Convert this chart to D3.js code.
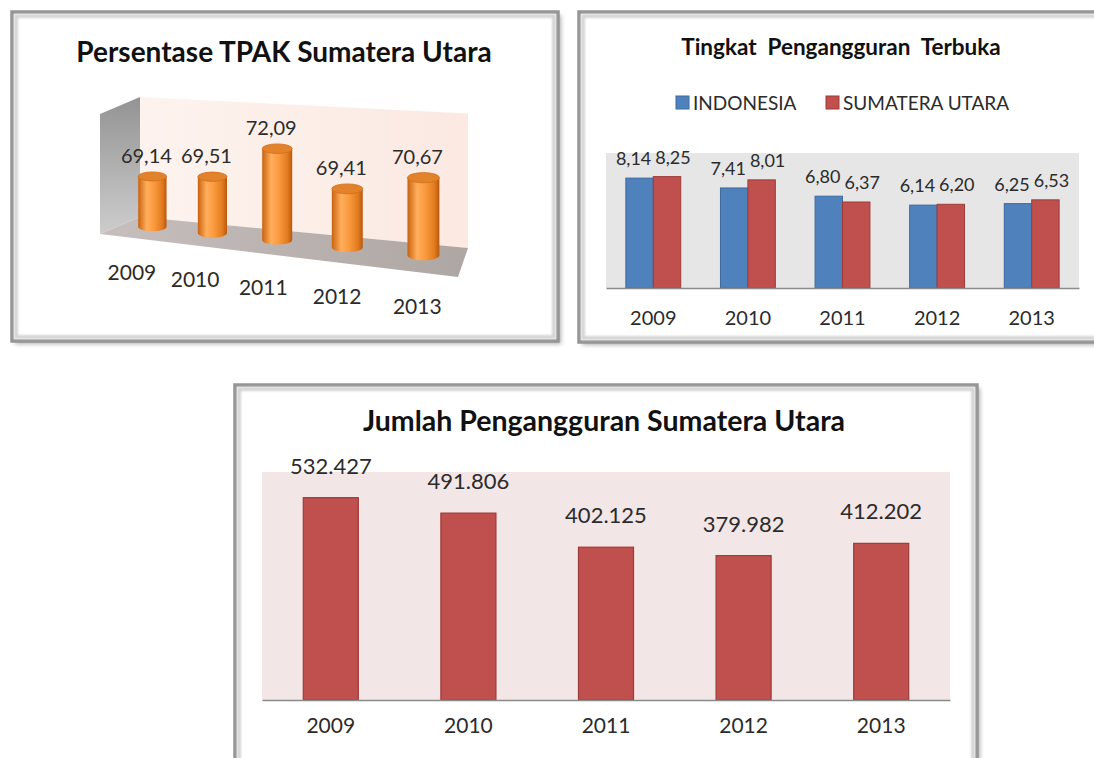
<!DOCTYPE html>
<html lang="id">
<head>
<meta charset="utf-8">
<title>Ketenagakerjaan Sumatera Utara</title>
<script src="https://d3js.org/d3.v7.min.js"></script>
<style>
  body { margin: 0; background: #ffffff; }
  svg { display: block; font-family: "Lato", "Open Sans", sans-serif; }
  .title { font-weight: 700; fill: #111; }
  .val { fill: #2b2b2b; }
  .axis text { fill: #2b2b2b; font-family: "Lato", sans-serif; }
  .axis path { stroke: #8a8a8a; stroke-width: 1.5; }
</style>
</head>
<body>
<div id="chart"></div>
<script>
// ---- data ----
const years = ["2009", "2010", "2011", "2012", "2013"];
const tpakValues = [69.14, 69.51, 72.09, 69.41, 70.67];
const seriesNames = ["INDONESIA", "SUMATERA UTARA"];
const tptIndonesia = [8.14, 7.41, 6.80, 6.14, 6.25];
const tptSumut = [8.25, 8.01, 6.37, 6.20, 6.53];
const jumlahValues = [532427, 491806, 402125, 379982, 412202];

const titleTpak = "Persentase TPAK Sumatera Utara";
const titleTpt = "Tingkat  Pengangguran  Terbuka";
const titleJumlah = "Jumlah Pengangguran Sumatera Utara";

const width = 1094, height = 758;
const idLocale = d3.formatLocale({decimal: ",", thousands: ".", grouping: [3], currency: ["Rp", ""]});
const fmtPct = idLocale.format(".2f");
const fmtJml = idLocale.format(",d");

const svg = d3.select("#chart").append("svg")
  .attr("width", width).attr("height", height);

const defs = svg.append("defs");
defs.append("filter").attr("id", "blur2").attr("x", "-5%").attr("y", "-5%").attr("width", "110%").attr("height", "110%")
  .append("feGaussianBlur").attr("stdDeviation", 2);
defs.append("filter").attr("id", "blur1").attr("x", "-5%").attr("y", "-5%").attr("width", "110%").attr("height", "110%")
  .append("feGaussianBlur").attr("stdDeviation", 1.3);

const cylGrad = defs.append("linearGradient").attr("id", "cyl").attr("x1", 0).attr("x2", 1).attr("y1", 0).attr("y2", 0);
[[0, "#c9620f"], [0.3, "#ffae5c"], [0.55, "#fb9a3e"], [0.85, "#e07a1f"], [1, "#b9580c"]]
  .forEach(s => cylGrad.append("stop").attr("offset", s[0]).attr("stop-color", s[1]));
const sideGrad = defs.append("linearGradient").attr("id", "side").attr("x1", 0).attr("x2", 0).attr("y1", 0).attr("y2", 1);
[[0, "#939393"], [1, "#cdcdcd"]].forEach(s => sideGrad.append("stop").attr("offset", s[0]).attr("stop-color", s[1]));
const backGrad = defs.append("linearGradient").attr("id", "back").attr("x1", 0).attr("x2", 1).attr("y1", 0).attr("y2", 0);
[[0, "#fdf3ee"], [1, "#fbe9e2"]].forEach(s => backGrad.append("stop").attr("offset", s[0]).attr("stop-color", s[1]));
const floorGrad = defs.append("linearGradient").attr("id", "floor").attr("x1", 0).attr("x2", 1).attr("y1", 0).attr("y2", 0);
[[0, "#c6bfbd"], [1, "#aea6a3"]].forEach(s => floorGrad.append("stop").attr("offset", s[0]).attr("stop-color", s[1]));

// panel frame with soft shading
function frame(x, y, w, h) {
  const g = svg.append("g");
  g.append("rect").attr("x", x + 3).attr("y", y + 3).attr("width", w).attr("height", h)
    .attr("fill", "#b0b0b0").attr("filter", "url(#blur2)");
  g.append("rect").attr("x", x).attr("y", y).attr("width", w).attr("height", h)
    .attr("fill", "#fff").attr("stroke", "#959595").attr("stroke-width", 3.5);
  g.append("rect").attr("x", x + 4).attr("y", y + 4).attr("width", w - 8).attr("height", h - 8)
    .attr("fill", "none").attr("stroke", "#d4d4d4").attr("stroke-width", 4).attr("filter", "url(#blur1)");
  return g;
}

frame(12, 12, 546, 329);
frame(579, 12, 530, 330);
frame(235, 385, 742, 390);

// ---------- panel 1 : 3D cylinders ----------
const p1 = svg.append("g");
p1.append("text").attr("class", "title").attr("x", 284).attr("y", 62)
  .attr("text-anchor", "middle").style("font-size", "28px").text(titleTpak);

const tScale = d3.scalePoint().domain(years).range([0, 1]).padding(0.5);
const hScale = d3.scaleLinear().domain([65, 75]).range([0, 120]);

// simple perspective: t along categories, d depth (0 back wall, 1 front of floor)
const fN = t => (t / (1 - 0.18 * t)) * 0.82;
function proj(t, d) {
  const f = fN(t);
  const bx = 140 + 328 * f, fx = 100 + 358 * f;
  const by = 217 + 31 * f, fy = 234 + 43 * f;
  return [bx + (fx - bx) * d, by + (fy - by) * d];
}
const sc = (t, d) => 1 + (0.12 + 0.1 * d) * fN(t);
const pt = p => p[0] + "," + p[1];
const up = (p, hh) => [p[0], p[1] - hh];

const wallH = hScale(75);
p1.append("polygon").attr("fill", "url(#side)")
  .attr("points", [proj(0, 0), proj(0, 1), up(proj(0, 1), wallH * sc(0, 1)), up(proj(0, 0), wallH * sc(0, 0))].map(pt).join(" "));
p1.append("polygon").attr("fill", "url(#back)")
  .attr("points", [proj(0, 0), proj(1, 0), up(proj(1, 0), wallH * sc(1, 0)), up(proj(0, 0), wallH * sc(0, 0))].map(pt).join(" "));
p1.append("polygon").attr("fill", "url(#floor)")
  .attr("points", [proj(0, 0), proj(1, 0), proj(1, 1), proj(0, 1)].map(pt).join(" "));

const cylData = years.map((yr, i) => {
  const t = tScale(yr);
  const base = proj(t, 0.4), s = sc(t, 0.4);
  const rx = 14 * s, ry = rx * 0.32;
  return {yr, v: tpakValues[i], cx: base[0], cy: base[1], rx, ry, h: hScale(tpakValues[i]) * s, front: proj(t, 1)};
});

const cyl = p1.selectAll("g.cyl").data(cylData).join("g").attr("class", "cyl");
cyl.append("path").attr("fill", "url(#cyl)")
  .attr("d", d => `M${d.cx - d.rx},${d.cy - d.h} L${d.cx - d.rx},${d.cy} A${d.rx},${d.ry} 0 0 0 ${d.cx + d.rx},${d.cy} L${d.cx + d.rx},${d.cy - d.h} Z`);
cyl.append("ellipse").attr("cx", d => d.cx).attr("cy", d => d.cy - d.h)
  .attr("rx", d => d.rx).attr("ry", d => d.ry)
  .attr("fill", "#e2822a").attr("stroke", "#cf6f1a").attr("stroke-width", 0.8);

p1.selectAll("text.val").data(cylData).join("text").attr("class", "val")
  .attr("x", d => d.cx - 6).attr("y", d => d.cy - d.h - d.ry - 9)
  .attr("text-anchor", "middle").style("font-size", "20px").text(d => fmtPct(d.v));
p1.selectAll("text.yr").data(cylData).join("text").attr("class", "yr val")
  .attr("x", d => d.front[0] + 2).attr("y", d => d.front[1] + 42)
  .attr("text-anchor", "middle").style("font-size", "21px").text(d => d.yr);

// ---------- panel 2 : grouped bars ----------
const p2 = svg.append("g");
p2.append("text").attr("class", "title").attr("x", 841).attr("y", 55)
  .attr("text-anchor", "middle").style("font-size", "22.5px").style("white-space", "pre").text(titleTpt);

const colors2 = ["#4f81bd", "#c0504d"];
const strokes2 = ["#3b6aa0", "#9e3b38"];
const legend = p2.selectAll("g.leg").data(seriesNames).join("g").attr("class", "leg")
  .attr("transform", (d, i) => `translate(${[676, 826][i]},96)`);
legend.append("rect").attr("width", 13).attr("height", 13)
  .attr("fill", (d, i) => colors2[i]).attr("stroke", (d, i) => strokes2[i]);
legend.append("text").attr("x", 17).attr("y", 13.5).attr("class", "val")
  .style("font-size", "19px").text(d => d);

const x2 = d3.scaleBand().domain(years).range([606, 1079]).paddingInner(0.42).paddingOuter(0.21);
const xs2 = d3.scaleBand().domain(seriesNames).range([0, x2.bandwidth()]);
const y2 = d3.scaleLinear().domain([0, 10]).range([288, 153]);

p2.append("rect").attr("x", 606).attr("y", y2(10)).attr("width", 473).attr("height", y2(0) - y2(10)).attr("fill", "#e6e6e6");

const tptRows = years.map((yr, i) => ({yr, vals: [tptIndonesia[i], tptSumut[i]]}));
const grp = p2.selectAll("g.grp").data(tptRows).join("g").attr("class", "grp")
  .attr("transform", d => `translate(${x2(d.yr)},0)`);
grp.selectAll("rect").data(d => d.vals.map((v, k) => ({v, k})))
  .join("rect")
  .attr("x", d => xs2(seriesNames[d.k])).attr("y", d => y2(d.v))
  .attr("width", xs2.bandwidth()).attr("height", d => y2(0) - y2(d.v))
  .attr("fill", d => colors2[d.k]).attr("stroke", d => strokes2[d.k]).attr("stroke-width", 1);
grp.selectAll("text").data(d => d.vals.map((v, k) => ({v, k})))
  .join("text").attr("class", "val")
  .attr("x", d => xs2(seriesNames[d.k]) + xs2.bandwidth() / 2 + (d.k ? 6 : -6))
  .attr("y", d => y2(d.v) - 13)
  .attr("text-anchor", "middle").style("font-size", "18px").text(d => fmtPct(d.v));

p2.append("g").attr("class", "axis").attr("transform", `translate(0,${y2(0)})`)
  .call(d3.axisBottom(x2).tickSize(0).tickPadding(23))
  .call(g => g.selectAll("text").style("font-size", "20px"));

// ---------- panel 3 : single bars ----------
const p3 = svg.append("g");
p3.append("text").attr("class", "title").attr("x", 604).attr("y", 431)
  .attr("text-anchor", "middle").style("font-size", "28.5px").text(titleJumlah);

const x3 = d3.scaleBand().domain(years).range([262, 950]).paddingInner(0.6).paddingOuter(0.3);
const y3 = d3.scaleLinear().domain([0, 600000]).range([700, 472]);

p3.append("rect").attr("x", 262).attr("y", y3(600000)).attr("width", 688).attr("height", y3(0) - y3(600000)).attr("fill", "#f3e6e6");

const jmlRows = years.map((yr, i) => ({yr, v: jumlahValues[i]}));
p3.selectAll("rect.bar").data(jmlRows).join("rect").attr("class", "bar")
  .attr("x", d => x3(d.yr)).attr("y", d => y3(d.v))
  .attr("width", x3.bandwidth()).attr("height", d => y3(0) - y3(d.v))
  .attr("fill", "#c0504d").attr("stroke", "#9e3b38").attr("stroke-width", 1.2);
p3.selectAll("text.val").data(jmlRows).join("text").attr("class", "val")
  .attr("x", d => x3(d.yr) + x3.bandwidth() / 2).attr("y", d => y3(d.v) - 24)
  .attr("text-anchor", "middle").style("font-size", "22px").text(d => fmtJml(d.v));

p3.append("g").attr("class", "axis").attr("transform", `translate(0,${y3(0)})`)
  .call(d3.axisBottom(x3).tickSize(0).tickPadding(18))
  .call(g => g.selectAll("text").style("font-size", "21px"));
</script>
</body>
</html>
